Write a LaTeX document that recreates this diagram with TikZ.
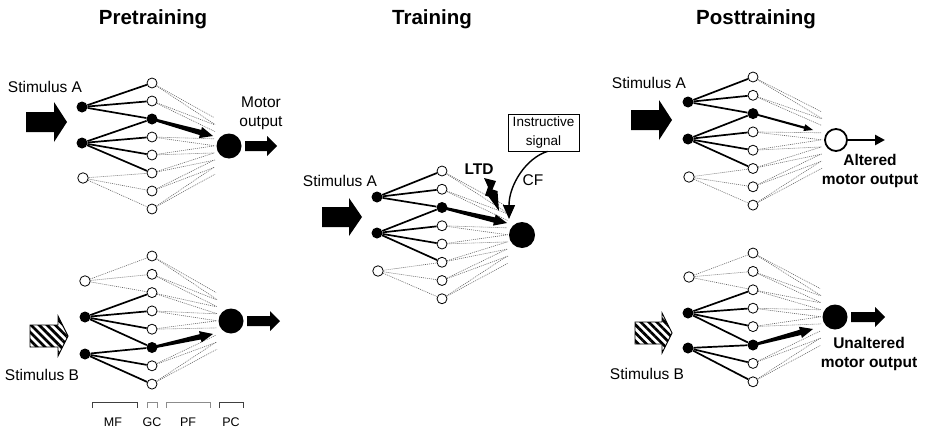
\documentclass[tikz,border=0pt]{standalone}
\usepackage{fontspec}
\setmainfont{Liberation Sans}
\usetikzlibrary{calc,arrows.meta,patterns.meta}
\newcommand\gccolumn[5]{% prefix, x, y1, dy, filled index
  \foreach \i in {1,...,8}{%
    \ifnum\i=#5\relax
      \node[gcf] (#1g\i) at (#2,{#3+(\i-1)*#4}) {};
    \else
      \node[gco] (#1g\i) at (#2,{#3+(\i-1)*#4}) {};
    \fi
  }}
\newcommand\pffan[3]{% prefix, pc node, skipped index
  \foreach \i in {1,...,8}{%
    \ifnum\i=#3\relax\else
      \coordinate (#1ea\i) at ($(#2)+(-15,{-25+(\i-1)*7.1-3.5})$);
      \coordinate (#1eb\i) at ($(#2)+(-14,{-25+(\i-1)*7.1+3.5})$);
      \draw[pfline] (#1g\i) -- (#1ea\i);
      \draw[pfline] (#1g\i) -- (#1eb\i);
    \fi
  }}
\newcommand\taparrow[6]{% from, to, start half, shaft half, head half, head length
  \coordinate (hb) at ($(#2)!#6!(#1)$);
  \fill ($(#1)!#3!90:(#2)$) -- ($(hb)!#4!90:(#2)$) -- ($(hb)!#5!90:(#2)$) -- (#2)
     -- ($(hb)!#5!-90:(#2)$) -- ($(hb)!#4!-90:(#2)$) -- ($(#1)!#3!-90:(#2)$) -- cycle;}
\newcommand\blockarrow[7]{% tip x, tip y, length, body half, head half, head length, style
  \path[#7] (#1,#2) -- ({#1-#6},{#2-#5}) -- ({#1-#6},{#2-#4}) -- ({#1-#3},{#2-#4})
     -- ({#1-#3},{#2+#4}) -- ({#1-#6},{#2+#4}) -- ({#1-#6},{#2+#5}) -- cycle;}
\begin{document}
\begin{tikzpicture}[x=1pt,y=-1pt,
  mff/.style={circle,fill=black,inner sep=0pt,minimum size=11pt},
  mfo/.style={circle,draw=black,fill=white,line width=0.8pt,inner sep=0pt,minimum size=10.5pt},
  gco/.style={circle,draw=black,fill=white,line width=0.8pt,inner sep=0pt,minimum size=10pt},
  gcf/.style={circle,fill=black,inner sep=0pt,minimum size=11pt},
  pcf/.style={circle,fill=black,inner sep=0pt,minimum size=25pt},
  pco/.style={circle,draw=black,fill=white,line width=1.8pt,inner sep=0pt,minimum size=22pt},
  mfline/.style={line width=1.7pt},
  pfline/.style={draw=black!60,line width=0.6pt,dash pattern=on 1pt off 1pt},
  lbl/.style={font=\fontsize{15.5}{19}\selectfont,inner sep=0pt,align=center},
  blbl/.style={font=\fontsize{15.5}{18.5}\selectfont\bfseries,inner sep=0pt,align=center},
  ttl/.style={font=\fontsize{20.5}{24}\selectfont\bfseries,inner sep=0pt,anchor=base},
  smallbl/.style={font=\fontsize{12.5}{15}\selectfont,inner sep=0pt},
  solidarrow/.style={fill=black},
  hatcharrow/.style={draw=black,line width=0.9pt,preaction={fill=white},
     pattern={Lines[angle=-45,distance=5.7pt,line width=2.7pt]}},
]
\useasboundingbox (0,0) rectangle (928,431);

% ---------------- titles ----------------
\node[ttl] (t1) at (153,24.3) {Pretraining};
\node[ttl] (t2) at (432,24.3) {Training};
\node[ttl] (t3) at (756,24.3) {Posttraining};

% ================= Pretraining top (a) =================
\node[mff] (am1) at (82,107) {};
\node[mff] (am2) at (82,143) {};
\node[mfo] (amo) at (83,178) {};
\gccolumn{a}{152}{83}{18.0}{3}
\node[pcf] (apc) at (229,146) {};
\pffan{a}{apc}{3}
\foreach \j in {6,7,8} \draw[pfline] (amo) -- (ag\j);
\foreach \j in {1,2,3} \draw[mfline] (am1) -- (ag\j);
\foreach \j in {3,4,5,6} \draw[mfline] (am2) -- (ag\j);
\coordinate (atip) at (213,136);
\taparrow{ag3}{atip}{1.3pt}{2.7pt}{5.8pt}{13pt}
\blockarrow{67}{122}{41}{10}{20}{13}{solidarrow}
\node[lbl] (asa) at (45,87) {Stimulus A};
\node[lbl] (amot) at (261,113) {Motor\\output};
\blockarrow{277}{146}{32}{5}{10}{10}{solidarrow}

% ================= Pretraining bottom (b) =================
\node[mfo] (bmo) at (85,281) {};
\node[mff] (bm1) at (85,317) {};
\node[mff] (bm2) at (85,354) {};
\gccolumn{b}{152}{256}{18.3}{6}
\node[pcf] (bpc) at (231,321) {};
\pffan{b}{bpc}{6}
\foreach \j in {1,2,3} \draw[pfline] (bmo) -- (bg\j);
\foreach \j in {3,4,5,6} \draw[mfline] (bm1) -- (bg\j);
\foreach \j in {6,7,8} \draw[mfline] (bm2) -- (bg\j);
\coordinate (btip) at (213,334);
\taparrow{bg6}{btip}{1.3pt}{2.7pt}{5.8pt}{13pt}
\blockarrow{68}{336}{38}{11}{20}{10}{hatcharrow}
\node[lbl] (bsb) at (42,375) {Stimulus B};
\blockarrow{280}{321}{33}{5}{10}{10}{solidarrow}

% brackets
\draw[line width=0.9pt,black!75] (92,408) -- (92,402) -- (137,402) -- (137,408);
\draw[line width=0.9pt,black!45] (147,408) -- (147,402) -- (157,402) -- (157,408);
\draw[line width=0.9pt,black!45] (166,408) -- (166,402) -- (210,402) -- (210,408);
\draw[line width=0.9pt,black!75] (219,408) -- (219,402) -- (243,402) -- (243,408);
\node[smallbl] (lmf) at (113,422) {MF};
\node[smallbl] (lgc) at (152,422) {GC};
\node[smallbl] (lpf) at (188,422) {PF};
\node[smallbl] (lpc) at (231,422) {PC};

% ================= Training (c) =================
\node[mff] (cm1) at (377,197) {};
\node[mff] (cm2) at (377,233) {};
\node[mfo] (cmo) at (378,271) {};
\gccolumn{c}{442}{171}{18.25}{3}
\node[pcf,minimum size=26pt] (cpc) at (522,235) {};
\pffan{c}{cpc}{3}
\foreach \j in {6,7,8} \draw[pfline] (cmo) -- (cg\j);
\foreach \j in {1,2,3} \draw[mfline] (cm1) -- (cg\j);
\foreach \j in {3,4,5,6} \draw[mfline] (cm2) -- (cg\j);
\coordinate (ctip) at (507,223);
\taparrow{cg3}{ctip}{1.3pt}{2.7pt}{5.8pt}{13pt}
\blockarrow{362}{217}{40}{10}{19}{13}{solidarrow}
\node[lbl] (csa) at (340,181) {Stimulus A};
\node[blbl] (cltd) at (479,169) {LTD};
\fill (484,178) -- (496,181) -- (492.5,189.5) -- (497.5,191) -- (499,211)
   -- (488.5,196.5) -- (485,195.5) -- (488,187) -- cycle;
\node[draw,line width=0.8pt,minimum width=71pt,minimum height=37pt,inner sep=0pt,
  align=center,font=\fontsize{13.5}{19}\selectfont] (ibox) at (543.5,132.5) {Instructive\\signal};
\coordinate (cfstart) at ($(ibox.south)+(4,0)$);
\coordinate (cftip) at (509,219);
\draw[line width=1.4pt,-{Triangle[length=14pt,width=12pt]}] (cfstart) .. controls (526,158) and (509,185) .. (cftip);
\node[lbl] (ccf) at (533,180) {CF};

% ================= Posttraining top (d) =================
\node[mff] (dm1) at (688,102) {};
\node[mff] (dm2) at (688,139) {};
\node[mfo] (dmo) at (689,177) {};
\gccolumn{d}{753}{77}{18.3}{3}
\node[pco] (dpc) at (836,140) {};
\pffan{d}{dpc}{3}
\foreach \j in {6,7,8} \draw[pfline] (dmo) -- (dg\j);
\foreach \j in {1,2,3} \draw[mfline] (dm1) -- (dg\j);
\foreach \j in {3,4,5,6} \draw[mfline] (dm2) -- (dg\j);
\coordinate (dtip) at (813,130);
\taparrow{dg3}{dtip}{0.9pt}{1.1pt}{3.5pt}{9pt}
\blockarrow{672}{120}{41}{10}{20}{13}{solidarrow}
\node[lbl] (dsa) at (649,83) {Stimulus A};
\coordinate (dout) at (885,140);
\draw[line width=2.6pt,-{Triangle[length=10pt,width=10pt]}] (dpc) -- (dout);
\node[blbl] (dalt) at (870,171) {Altered\\motor output};

% ================= Posttraining bottom (e) =================
\node[mfo] (emo) at (689,277) {};
\node[mff] (em1) at (688,313) {};
\node[mff] (em2) at (688,348) {};
\gccolumn{e}{753}{253}{18.4}{6}
\node[pcf] (epc) at (835,317) {};
\pffan{e}{epc}{6}
\foreach \j in {1,2,3} \draw[pfline] (emo) -- (eg\j);
\foreach \j in {3,4,5,6} \draw[mfline] (em1) -- (eg\j);
\foreach \j in {6,7,8} \draw[mfline] (em2) -- (eg\j);
\coordinate (etip) at (813,329);
\taparrow{eg6}{etip}{1.3pt}{2.7pt}{5.8pt}{13pt}
\blockarrow{672}{333}{37}{11}{20}{10}{hatcharrow}
\node[lbl] (esb) at (647,374) {Stimulus B};
\blockarrow{885}{317}{34}{5}{10}{10}{solidarrow}
\node[blbl] (eunalt) at (869,354) {Unaltered\\motor output};
\end{tikzpicture}
\end{document}
